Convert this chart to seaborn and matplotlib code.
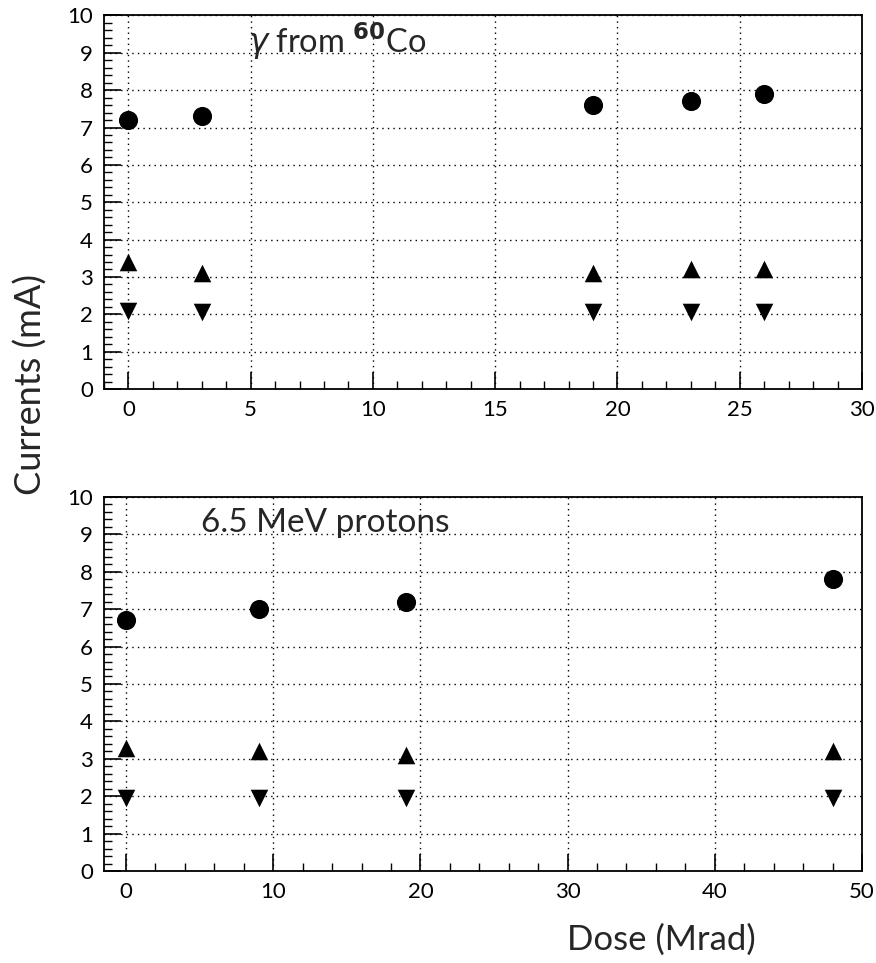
import matplotlib
matplotlib.use("Agg")
import matplotlib.pyplot as plt
import pandas as pd
import seaborn as sns
from matplotlib.ticker import MultipleLocator

sns.set_style("ticks")
plt.rcParams['font.family'] = ['Lato', 'DejaVu Sans']
plt.rcParams['mathtext.fontset'] = 'dejavusans'

# gamma from 60Co
dose_gamma = [0, 3, 19, 23, 26]
circ_gamma = [7.2, 7.3, 7.6, 7.7, 7.9]
up_gamma = [3.4, 3.1, 3.1, 3.2, 3.2]
down_gamma = [2.1, 2.05, 2.05, 2.05, 2.05]

# 6.5 MeV protons
dose_prot = [0, 9, 19, 48]
circ_prot = [6.7, 7.0, 7.2, 7.8]
up_prot = [3.3, 3.2, 3.1, 3.2]
down_prot = [1.95, 1.95, 1.95, 1.95]

fig = plt.figure(figsize=(8.76, 9.63), dpi=100)
ax1 = fig.add_axes([0.1187, 0.596, 0.8653, 0.388])
ax2 = fig.add_axes([0.1187, 0.0955, 0.8653, 0.3885])


def draw_panel(ax, dose, circ, up, down, xlim, xmaj, xmin):
    df = pd.DataFrame({'dose': dose, 'circ': circ, 'up': up, 'down': down})
    sns.scatterplot(data=df, x='dose', y='circ', marker='o', s=190, color='black',
                    edgecolor='black', linewidth=0, ax=ax, zorder=3)
    sns.scatterplot(data=df, x='dose', y='up', marker='^', s=160, color='black',
                    edgecolor='black', linewidth=0, ax=ax, zorder=3)
    sns.scatterplot(data=df, x='dose', y='down', marker='v', s=160, color='black',
                    edgecolor='black', linewidth=0, ax=ax, zorder=3)
    ax.set_xlim(*xlim)
    ax.set_ylim(0, 10)
    ax.xaxis.set_major_locator(MultipleLocator(xmaj))
    ax.xaxis.set_minor_locator(MultipleLocator(xmin))
    ax.yaxis.set_major_locator(MultipleLocator(1))
    ax.yaxis.set_minor_locator(MultipleLocator(0.2))
    ax.grid(True, which='major', color='black', linestyle=(0, (1, 3)), linewidth=1)
    ax.tick_params(which='major', direction='in', length=12, width=1.2,
                   labelsize=16, pad=8, colors='black')
    ax.tick_params(which='minor', direction='in', length=6, width=1, colors='black')
    for s in ax.spines.values():
        s.set_visible(True)
        s.set_linewidth(1.3)
        s.set_color('black')
    ax.set_xlabel('')
    ax.set_ylabel('')


draw_panel(ax1, dose_gamma, circ_gamma, up_gamma, down_gamma, (-1, 30), 5, 1)
draw_panel(ax2, dose_prot, circ_prot, up_prot, down_prot, (-1.5, 50), 10, 2)

ax1.text(4.9, 9.3, r'$\gamma$ from $^{\mathbf{60}}$Co', fontsize=23.5, va='center', ha='left')
ax2.text(5.1, 9.3, '6.5 MeV protons', fontsize=24, va='center', ha='left')

fig.text(0.035, 0.601, 'Currents (mA)', rotation=90, fontsize=26, ha='center', va='center')
fig.text(0.755, 0.024, 'Dose (Mrad)', fontsize=25, ha='center', va='center')

fig.savefig('out.png', dpi=100)
